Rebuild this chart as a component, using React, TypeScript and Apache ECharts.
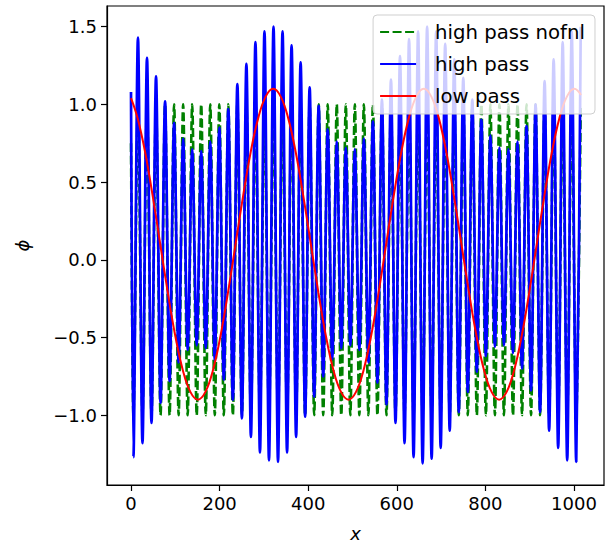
import React, { useEffect, useRef } from "react";
import * as echarts from "echarts";

// ---- data ----
const xTicks = [0, 200, 400, 600, 800, 1000];
const yTicks = [-1.0, -0.5, 0.0, 0.5, 1.0, 1.5];

// extrema of the fast oscillation: troughs at firstTroughX + i*period, peaks half a period later
const firstTroughX = 5.5;
const oscPeriod = 20.4;

const blueStartValue = 1.08;
const blueTroughs = [
  -1.27, -1.18, -1.05, -0.92, -0.78, -0.66, -0.58, -0.55, -0.57, -0.65,
  -0.77, -0.9, -1.02, -1.14, -1.24, -1.29, -1.3, -1.24, -1.14, -1.01,
  -0.88, -0.75, -0.64, -0.57, -0.55, -0.58, -0.66, -0.79, -0.93, -1.05,
  -1.18, -1.27, -1.31, -1.28, -1.21, -1.1, -0.98, -0.85, -0.72, -0.62,
  -0.56, -0.55, -0.6, -0.7, -0.84, -0.98, -1.1, -1.21, -1.29, -1.3,
];
const bluePeaks = [
  1.43, 1.3, 1.18, 1.02, 0.88, 0.78, 0.71, 0.7, 0.76, 0.85,
  0.97, 1.13, 1.26, 1.4, 1.47, 1.5, 1.47, 1.38, 1.27, 1.11,
  0.99, 0.84, 0.76, 0.72, 0.71, 0.78, 0.89, 1.03, 1.16, 1.31,
  1.42, 1.47, 1.5, 1.47, 1.39, 1.29, 1.17, 1.03, 0.9, 0.8,
  0.72, 0.71, 0.76, 0.86, 1.0, 1.15, 1.29, 1.4, 1.47, 1.5,
];

const greenStartValue = 0.75;
const greenTroughs = [
  -1, -1, -1, -1, -1, -1, -1, -1, -1, -1,
  -1, -1, -1, -1, -1, -1, -1, -1, -1, -1,
  -1, -1, -1, -1, -1, -1, -1, -1, -1, -1,
  -1, -1, -1, -1, -1, -1, -1, -1, -1, -1,
  -1, -1, -1, -1, -1, -1, -1, -1, -1, -1,
];
const greenPeaks = [
  1, 1, 1, 1, 1, 1, 1, 1, 1, 1,
  1, 1, 1, 1, 1, 1, 1, 1, 1, 1,
  1, 1, 1, 1, 1, 1, 1, 1, 1, 1,
  1, 1, 1, 1, 1, 1, 1, 1, 1, 1,
  1, 1, 1, 1, 1, 1, 1, 1, 1, 1,
];

const redX = [
  0, 15, 32, 49, 66, 83, 100, 117, 134, 151, 168, 185, 202, 219, 236, 253, 270, 287, 304, 321, 338,
  355, 372, 389, 406, 423, 440, 457, 474, 491, 508, 525, 542, 559, 576, 593, 610, 627, 644, 661, 678,
  695, 712, 729, 746, 763, 780, 797, 814, 831, 848, 865, 882, 899, 916, 933, 950, 967, 984, 1001, 1016,
];
const redY = [
  1.04, 0.91, 0.69, 0.41, 0.1, -0.21, -0.49, -0.71, -0.85, -0.9, -0.85, -0.71, -0.49, -0.21, 0.1, 0.41, 0.69, 0.91, 1.05, 1.1, 1.05,
  0.91, 0.69, 0.41, 0.1, -0.21, -0.49, -0.71, -0.85, -0.9, -0.85, -0.71, -0.49, -0.21, 0.1, 0.41, 0.69, 0.91, 1.05, 1.1, 1.05,
  0.91, 0.69, 0.41, 0.1, -0.21, -0.49, -0.71, -0.85, -0.9, -0.85, -0.71, -0.49, -0.21, 0.1, 0.41, 0.69, 0.91, 1.05, 1.1, 1.06,
];

function zigzag(startValue: number, troughs: number[], peaks: number[]) {
  const pts: number[][] = [[0, startValue]];
  for (let i = 0; i < troughs.length; i++) {
    pts.push([firstTroughX + i * oscPeriod, troughs[i]]);
    pts.push([firstTroughX + i * oscPeriod + oscPeriod / 2, peaks[i]]);
  }
  return pts;
}

const FONT = "DejaVu Sans";
const fmt = (v: number) => (v < 0 ? "\u2212" : "") + Math.abs(v).toFixed(1);

export default function App() {
  const ref = useRef<HTMLDivElement>(null);
  useEffect(() => {
    if (!ref.current) return;
    const chart = echarts.init(ref.current, undefined, { renderer: "svg" });
    const axisLine = { show: true, onZero: false, lineStyle: { color: "#000", width: 1.2 } };
    chart.setOption({
      animation: false,
      backgroundColor: "#fff",
      grid: {
        left: 107,
        top: 6,
        width: 497,
        height: 483,
        show: true,
        borderColor: "#000",
        borderWidth: 1.2,
        backgroundColor: "transparent",
      },
      xAxis: {
        type: "value",
        min: -54.2,
        max: 1067.8,
        axisLine,
        splitLine: { show: false },
        axisTick: { show: true, customValues: xTicks, length: 6, lineStyle: { color: "#000", width: 1.2 } },
        axisLabel: {
          customValues: xTicks,
          fontSize: 18,
          fontFamily: FONT,
          color: "#000",
          margin: 9,
          formatter: (v: number) => String(v),
        },
        name: "x",
        nameLocation: "middle",
        nameGap: 39,
        nameTextStyle: { fontSize: 18, fontFamily: FONT, fontStyle: "italic", color: "#000" },
      },
      yAxis: {
        type: "value",
        min: -1.449,
        max: 1.633,
        axisLine,
        splitLine: { show: false },
        axisTick: { show: true, customValues: yTicks, length: 6, lineStyle: { color: "#000", width: 1.2 } },
        axisLabel: {
          customValues: yTicks,
          fontSize: 18,
          fontFamily: FONT,
          color: "#000",
          margin: 10,
          formatter: fmt,
        },
        name: "\u03d5",
        nameLocation: "middle",
        nameRotate: 90,
        nameGap: 76,
        nameTextStyle: { fontSize: 18, fontFamily: FONT, fontStyle: "italic", color: "#000" },
      },
      legend: {
        orient: "vertical",
        right: 14,
        top: 15,
        selectedMode: false,
        itemWidth: 36,
        itemHeight: 14,
        itemGap: 12,
        padding: [7, 10, 8, 6],
        backgroundColor: "rgba(255,255,255,0.8)",
        borderColor: "#cfcfcf",
        borderWidth: 1,
        borderRadius: 4,
        itemStyle: { color: "rgba(0,0,0,0)", borderColor: "rgba(0,0,0,0)", borderWidth: 0 },
        textStyle: { fontSize: 19.7, fontFamily: FONT, color: "#000", lineHeight: 20, padding: [0, 0, 0, 14] },
        data: ["high pass nofnl", "high pass", "low pass"],
      },
      series: [
        {
          name: "high pass nofnl",
          type: "line",
          data: zigzag(greenStartValue, greenTroughs, greenPeaks),
          symbol: "none",
          smooth: 0.3,
          lineStyle: { color: "#008000", width: 2.6, type: [9, 3.5] },
          itemStyle: { color: "#008000" },
        },
        {
          name: "high pass",
          type: "line",
          data: zigzag(blueStartValue, blueTroughs, bluePeaks),
          symbol: "none",
          smooth: 0.3,
          lineStyle: { color: "#0000ff", width: 2.7 },
          itemStyle: { color: "#0000ff" },
        },
        {
          name: "low pass",
          type: "line",
          data: redX.map((x, i) => [x, redY[i]]),
          symbol: "none",
          smooth: 0.4,
          lineStyle: { color: "#ff0000", width: 2 },
          itemStyle: { color: "#ff0000" },
        },
      ],
    });
    return () => chart.dispose();
  }, []);
  return (
    <div
      ref={ref}
      style={{ position: "fixed", left: 0, top: 0, width: 609, height: 547, background: "#fff" }}
    />
  );
}
